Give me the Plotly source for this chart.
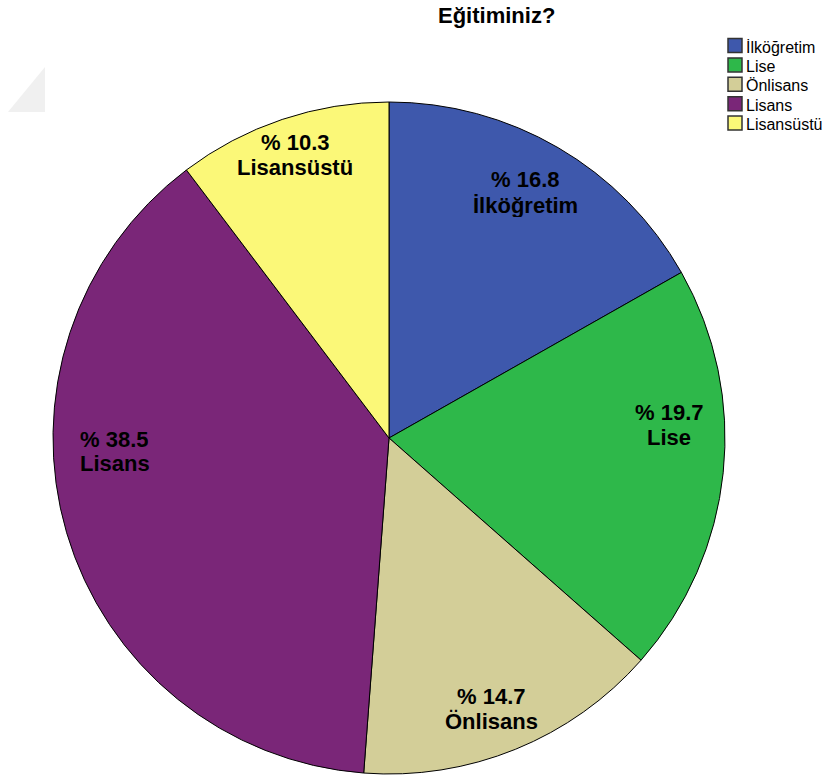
import plotly.graph_objects as go

# Education level distribution (percent of respondents)
categories = ["İlköğretim", "Lise", "Önlisans", "Lisans", "Lisansüstü"]
percents = [16.8, 19.7, 14.7, 38.5, 10.3]
colors = ["#3E58AC", "#2EB84A", "#D3CE98", "#7A2678", "#FBF878"]

W, H = 827, 775
cx, cy, r = 389, 438, 336  # pie centre and radius in pixels

# label anchor points (pixel x, y midway between the two label lines)
label_px = [(525, 192), (669, 424), (491, 708), (115, 451), (295, 154)]
LINE_GAP = 25
LABEL_SIZE = 22

FONT = "Liberation Sans, Arial, sans-serif"


def px_x(x):
    return x / W


def px_y(y):
    return 1 - y / H


fig = go.Figure()
fig.add_trace(go.Pie(
    labels=categories,
    values=percents,
    sort=False,
    direction="clockwise",
    rotation=0,
    marker=dict(colors=colors, line=dict(color="#000000", width=1)),
    textinfo="none",
    hoverinfo="label+percent",
    showlegend=False,
    domain=dict(x=[px_x(cx - r), px_x(cx + r)],
                y=[px_y(cy + r), px_y(cy - r)]),
))

annotations = []
shapes = []

# slice labels: percentage on the first line, category below
for name, val, (lx, ly) in zip(categories, percents, label_px):
    for k, line in enumerate([f"% {val:.1f}", name]):
        annotations.append(dict(
            x=px_x(lx), y=px_y(ly + (k - 0.5) * LINE_GAP),
            xref="paper", yref="paper",
            xanchor="center", yanchor="middle", height=LINE_GAP - 1,
            text=f"<b>{line}</b>", showarrow=False,
            font=dict(family=FONT, size=LABEL_SIZE, color="#000000"),
        ))

# title
annotations.append(dict(
    x=px_x(497), y=px_y(15), xref="paper", yref="paper",
    xanchor="center", yanchor="middle",
    text="<b>Eğitiminiz?</b>", showarrow=False,
    font=dict(family=FONT, size=22, color="#000000"),
))

# legend: framed colour squares with category names
LEG_X, LEG_Y0, LEG_STEP, SW = 728, 45.5, 19.4, 14
for i, (name, col) in enumerate(zip(categories, colors)):
    yc = LEG_Y0 + i * LEG_STEP
    shapes.append(dict(
        type="rect", xref="paper", yref="paper",
        x0=px_x(LEG_X), x1=px_x(LEG_X + SW),
        y0=px_y(yc + SW / 2), y1=px_y(yc - SW / 2),
        fillcolor=col, line=dict(color="#333333", width=1.5),
    ))
    annotations.append(dict(
        x=px_x(LEG_X + SW + 2), y=px_y(yc + 1), xref="paper", yref="paper",
        xanchor="left", yanchor="middle", height=LEG_STEP - 1,
        text=name, showarrow=False,
        font=dict(family=FONT, size=16, color="#000000"),
    ))

# faint corner mark at the top left
shapes.append(dict(
    type="path", xref="paper", yref="paper",
    path=f"M {px_x(8)},{px_y(112)} L {px_x(45)},{px_y(67)} "
         f"L {px_x(45)},{px_y(112)} Z",
    fillcolor="#F0F0F0", line=dict(width=0), layer="below",
))

fig.update_layout(
    width=W, height=H,
    margin=dict(l=0, r=0, t=0, b=0),
    paper_bgcolor="#FFFFFF",
    plot_bgcolor="#FFFFFF",
    showlegend=False,
    annotations=annotations,
    shapes=shapes,
)

fig.write_html("out.html")
